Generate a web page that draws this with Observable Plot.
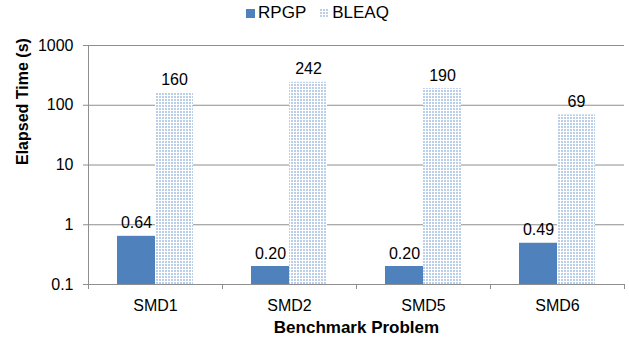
<!DOCTYPE html>
<html>
<head>
<meta charset="utf-8">
<script src="https://cdn.jsdelivr.net/npm/d3@7"></script>
<script src="https://cdn.jsdelivr.net/npm/@observablehq/plot@0.6"></script>
<style>
  html, body { margin: 0; padding: 0; background: #fff; }
  #wrap { position: relative; width: 629px; height: 343px; font-family: "Liberation Sans", Arial, sans-serif; }
  #legend { position: absolute; top: 0; left: 0; width: 629px; height: 26px; display: flex; justify-content: center; align-items: center; padding-left: 6px; box-sizing: border-box; font-size: 17px; color: #000; }
  .item { display: flex; align-items: center; margin: 0 7px; }
  .sw { width: 9px; height: 9px; margin-right: 3px; }
</style>
</head>
<body>
<div id="wrap">
  <div id="legend"></div>
</div>
<script>
const categories = ["SMD1", "SMD2", "SMD5", "SMD6"];
const series = ["RPGP", "BLEAQ"];
const rpgp = [0.64, 0.20, 0.20, 0.49];
const bleaq = [160, 242, 190, 69];
const rpgpLabels = ["0.64", "0.20", "0.20", "0.49"];
const bleaqLabels = ["160", "242", "190", "69"];
const yTicks = [0.1, 1, 10, 100, 1000];
const yTickLabels = ["0.1", "1", "10", "100", "1000"];
const yTitle = "Elapsed Time (s)";
const xTitle = "Benchmark Problem";

const W = 629, H = 343;
const mL = 88, mR = 5, mT = 45, mB = 59;
const step = (W - mL - mR) / categories.length;
const barW = 38;
const outer = (step - 2 * barW) / 2;
const blue = "#4f81bd";
const grid = "#8e8e8e";

const rows = categories.map((c, i) => ({c, r: rpgp[i], b: bleaq[i], rl: rpgpLabels[i], bl: bleaqLabels[i]}));

const svg = Plot.plot({
  width: W, height: H,
  marginLeft: mL, marginRight: mR, marginTop: mT, marginBottom: mB,
  style: {fontFamily: '"Liberation Sans", Arial, sans-serif', fontSize: "16px", color: "#000", background: "#fff"},
  x: {type: "band", domain: categories, padding: 0, label: null},
  y: {type: "log", domain: [0.1, 1000], label: null},
  marks: [
    Plot.ruleY(yTicks.slice(1), {stroke: grid, strokeWidth: 1}),
    Plot.barY(rows, {x: "c", y1: 0.1, y2: "r", fill: blue, insetLeft: outer, insetRight: outer + barW}),
    Plot.barY(rows, {x: "c", y1: 0.1, y2: "b", fill: "url(#dots)", insetLeft: outer + barW, insetRight: outer}),
    Plot.text(rows, {x: "c", y: "r", text: "rl", dx: -barW / 2, dy: -8, lineAnchor: "bottom", fill: "#000"}),
    Plot.text(rows, {x: "c", y: "b", text: "bl", dx: barW / 2, dy: -8, lineAnchor: "bottom", fill: "#000"}),
    Plot.ruleY([0.1], {stroke: grid}),
    Plot.ruleX(categories.slice(0, 1), {x: d => d, dx: -step / 2, y1: 0.1, y2: 1000, stroke: grid}),
    Plot.ruleX(categories, {x: d => d, dx: -step / 2, y1: 0.1, y2: 0.1, insetBottom: -5, stroke: grid}),
    Plot.ruleX(categories.slice(-1), {x: d => d, dx: step / 2, y1: 0.1, y2: 0.1, insetBottom: -5, stroke: grid}),
    Plot.axisY({ticks: yTicks, tickFormat: (d, i) => yTickLabels[yTicks.indexOf(d)], tickSize: 5, tickPadding: 10, stroke: grid, fill: "#000", fontSize: 16, label: null}),
    Plot.axisX({tickSize: 0, tickPadding: 15, fill: "#000", fontSize: 16, label: null}),
    Plot.text([xTitle], {frameAnchor: "bottom", dy: 48, fontWeight: "bold", fontSize: 17, fill: "#000"}),
    Plot.text([yTitle], {frameAnchor: "left", dx: -66, rotate: -90, fontWeight: "bold", fontSize: 16, fill: "#000"})
  ]
});

// dotted pattern for BLEAQ bars
const ns = "http://www.w3.org/2000/svg";
const defs = document.createElementNS(ns, "defs");
defs.innerHTML = '<pattern id="dots" width="3" height="3" patternUnits="userSpaceOnUse"><rect width="3" height="3" fill="#ffffff"/><rect width="2" height="2" fill="#bccfe9"/></pattern>';
svg.insertBefore(defs, svg.firstChild);

document.getElementById("wrap").appendChild(svg);

// legend
const legend = document.getElementById("legend");
const swatchStyles = [blue, "url(#dots)"];
series.forEach((s, i) => {
  const item = document.createElement("div");
  item.className = "item";
  const sw = document.createElementNS(ns, "svg");
  sw.setAttribute("width", 9); sw.setAttribute("height", 9);
  sw.setAttribute("class", "sw");
  const r = document.createElementNS(ns, "rect");
  r.setAttribute("width", 9); r.setAttribute("height", 9);
  r.setAttribute("fill", swatchStyles[i]);
  sw.appendChild(r);
  const t = document.createElement("span");
  t.textContent = s;
  item.appendChild(sw); item.appendChild(t);
  legend.appendChild(item);
});
</script>
</body>
</html>
